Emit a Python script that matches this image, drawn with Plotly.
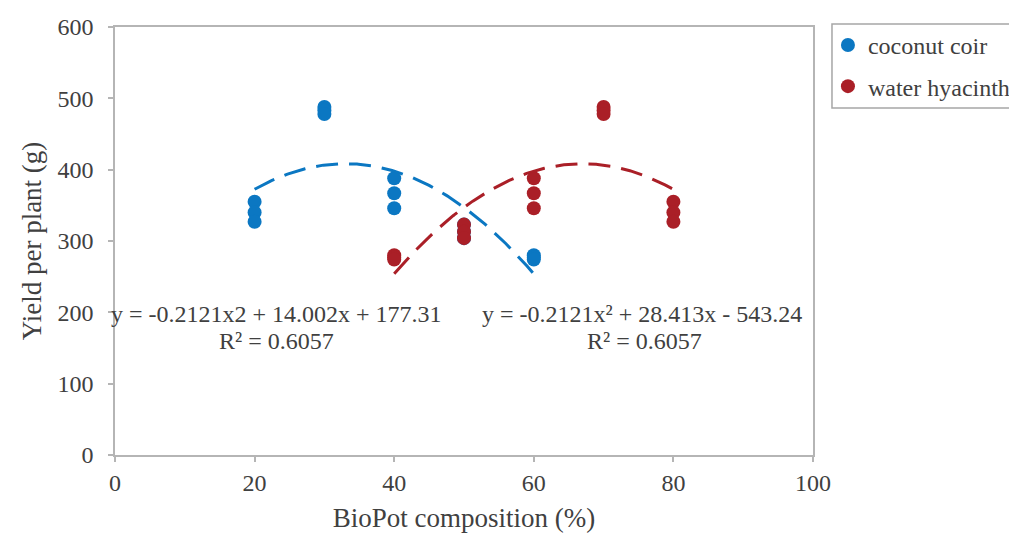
import numpy as np
import plotly.graph_objects as go

# ---- data ----
coconut_x = [20, 20, 20, 30, 30, 30, 40, 40, 40, 50, 50, 50, 60, 60, 60]
coconut_y = [355, 340, 327, 488, 483, 478, 388, 367, 346, 323, 313, 304, 280, 277, 274]
hyacinth_x = [40, 40, 40, 50, 50, 50, 60, 60, 60, 70, 70, 70, 80, 80, 80]
hyacinth_y = [280, 277, 274, 323, 313, 304, 388, 367, 346, 488, 483, 478, 355, 340, 327]

coconut_coef = [-0.2121, 14.002, 177.31]
hyacinth_coef = [-0.2121, 28.413, -543.24]

x_ticks = [0, 20, 40, 60, 80, 100]
y_ticks = [0, 100, 200, 300, 400, 500, 600]

BLUE = "#0B77C2"
RED = "#AA1F27"
TXT = "#404040"
FONT = "Liberation Serif"

fig = go.Figure()
fig.add_trace(go.Scatter(x=coconut_x, y=coconut_y, mode="markers", name="coconut coir",
                         legendgroup="a",
                         marker=dict(color=BLUE, size=14)))
fig.add_trace(go.Scatter(x=hyacinth_x, y=hyacinth_y, mode="markers", name="water hyacinth",
                         legendgroup="b",
                         marker=dict(color=RED, size=14)))

xc = np.linspace(min(coconut_x), max(coconut_x), 200)
xh = np.linspace(min(hyacinth_x), max(hyacinth_x), 200)
fig.add_trace(go.Scatter(x=xc, y=np.polyval(coconut_coef, xc), mode="lines", showlegend=False,
                         hoverinfo="skip",
                         line=dict(color=BLUE, width=3, dash="22px,11px")))
fig.add_trace(go.Scatter(x=xh, y=np.polyval(hyacinth_coef, xh), mode="lines", showlegend=False,
                         hoverinfo="skip",
                         line=dict(color=RED, width=3, dash="22px,11px")))

axis_common = dict(showgrid=False, zeroline=False, showline=True, linecolor="#B5B5B5",
                   linewidth=1.5, mirror=True, ticks="outside", ticklen=5, tickwidth=1.5,
                   tickcolor="#B5B5B5", tickfont=dict(family=FONT, size=24, color=TXT))

fig.update_xaxes(range=[0, 100], tickvals=x_ticks, ticklabelstandoff=0,
                 title=dict(text="BioPot composition (%)", font=dict(family=FONT, size=27, color=TXT),
                            standoff=28),
                 **axis_common)
fig.update_yaxes(range=[0, 600], tickvals=y_ticks, ticklabelstandoff=10,
                 title=dict(text="Yield per plant (g)", font=dict(family=FONT, size=27, color=TXT),
                            standoff=8),
                 **axis_common)

ann_font = dict(family=FONT, size=24, color=TXT)
annotations = [
    dict(text="y = -0.2121x2 + 14.002x + 177.31", x=0.2307, y=0.33),
    dict(text="R² = 0.6057", x=0.232, y=0.267),
    dict(text="y = -0.2121x² + 28.413x - 543.24", x=0.755, y=0.33),
    dict(text="R² = 0.6057", x=0.759, y=0.267),
]
for a in annotations:
    fig.add_annotation(xref="paper", yref="paper", xanchor="center", yanchor="middle",
                       showarrow=False, font=ann_font, **a)

# legend frame
fig.add_shape(type="rect", xref="paper", yref="paper", x0=1.0272, x1=1.31, y0=0.8107, y1=1.007,
              line=dict(color="#A6A6A6", width=1.5), fillcolor="rgba(0,0,0,0)")

fig.update_layout(
    width=1009, height=525,
    margin=dict(l=107, r=204, t=19, b=78, autoexpand=False),
    paper_bgcolor="white", plot_bgcolor="white",
    showlegend=True,
    legend=dict(x=1.0214, y=1.0097, xanchor="left", yanchor="top",
                font=dict(family=FONT, size=24, color=TXT),
                bgcolor="rgba(0,0,0,0)", borderwidth=0, tracegroupgap=7,
                itemwidth=30),
)

fig.write_html("out.html")
